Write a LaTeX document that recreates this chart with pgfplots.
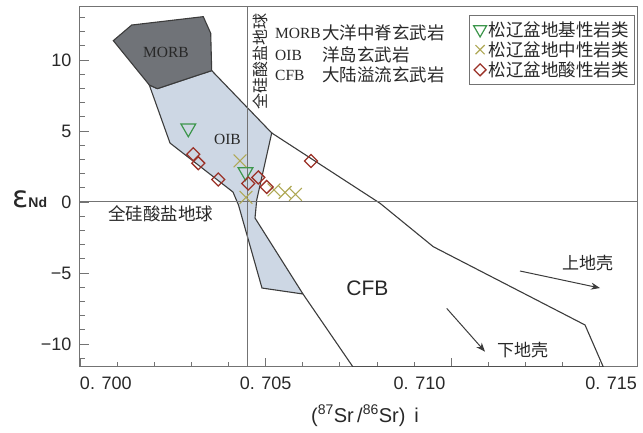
\documentclass[border=0pt]{standalone}
\usepackage{fontspec}
\setmainfont{Liberation Sans}
\newfontfamily\cjk{Noto Sans CJK SC}
\newfontfamily\serif{Liberation Serif}
\newfontfamily\dejavu{DejaVu Sans}
\usepackage{pgfplots}
\pgfplotsset{compat=1.18}
\usetikzlibrary{arrows.meta}
\definecolor{morbfill}{RGB}{112,115,120}
\definecolor{oibfill}{RGB}{205,215,228}
\definecolor{edge}{RGB}{60,60,60}
\definecolor{axgray}{RGB}{115,115,115}
\definecolor{tri}{RGB}{60,150,75}
\definecolor{crs}{RGB}{175,168,85}
\definecolor{dia}{RGB}{155,50,40}
\definecolor{txt}{RGB}{40,40,40}
\begin{document}
\begin{tikzpicture}
\useasboundingbox (-80pt,-66pt) rectangle (563pt,367pt);
\begin{axis}[
  scale only axis, width=557pt, height=360pt,
  xmin=0.700, xmax=0.715, ymin=-11.62, ymax=13.73,
  axis line style={draw=axgray, line width=1pt},
  tick align=inside, tick pos=left,
  xtick={0.700,0.705,0.710,0.715},
  xticklabels={\makebox[0pt][l]{0. 700}, 0. 705, \makebox[0pt][r]{0. 710\hspace{6pt}}, \makebox[0pt][r]{0. 715}},
  minor xtick={0.701,0.702,0.703,0.704,0.706,0.707,0.708,0.709,0.711,0.712,0.713,0.714},
  ytick={-10,-5,0,5,10},
  yticklabels={−10,−5,0,5,10},
  minor ytick={-11,-9,-8,-7,-6,-4,-3,-2,-1,1,2,3,4,6,7,8,9,11,12,13},
  major tick length=9pt, minor tick length=5pt,
  tick style={draw=axgray, line width=0.9pt},
  ticklabel style={font=\fontsize{18}{20}\selectfont, text=txt},
  xticklabel style={yshift=-6pt},
  yticklabel style={xshift=-5pt},
  clip mode=individual,
  legend style={at={(0.9964,0.978)}, anchor=north east, draw=axgray, line width=0.8pt,
    font=\cjk\fontsize{17.5}{19}\selectfont, text=txt, row sep=0pt, inner xsep=4pt, inner ysep=4pt,
    fill=white},
  legend cell align=left,
]
% OIB field
\addplot[fill=oibfill, draw=edge, line width=1.1pt, forget plot] coordinates {
 (0.701866,8.24) (0.702082,7.98) (0.703547,9.25) (0.705163,4.86) (0.704759,0.14)
 (0.704713,-1.13) (0.706005,-6.48) (0.704901,-6.06) (0.704268,-0.21) (0.704120,0.70)
 (0.702424,4.15)} -- cycle;
% MORB field
\addplot[fill=morbfill, draw=edge, line width=1.1pt, forget plot] coordinates {
 (0.700897,11.36) (0.701392,12.46) (0.703320,13.05) (0.703520,11.88) (0.703547,9.25)
 (0.702082,7.98) (0.701866,8.24)} -- cycle;
% CFB outline
\addplot[draw=edge, line width=1.1pt, forget plot] coordinates {
 (0.705163,4.86) (0.708079,-0.09) (0.709514,-3.15) (0.713600,-8.66) (0.714093,-11.62)
 (0.707352,-11.62) (0.706005,-6.48)};
% bulk silicate earth lines
\addplot[draw=axgray, line width=1pt, forget plot] coordinates {(0.700,0) (0.715,0)};
\addplot[draw=axgray, line width=1pt, forget plot] coordinates {(0.704505,-11.62) (0.704505,13.73)};
% data
\addplot[only marks, mark=triangle, mark size=8.5pt, mark options={rotate=180, draw=tri, line width=1.2pt, fill=none},
  legend image post style={mark size=7.5pt}] coordinates {
 (0.702917,5.19) (0.704457,2.11)};
\addlegendentry{松辽盆地基性岩类}
\addplot[only marks, mark=x, mark size=9pt, mark options={draw=crs, line width=1.1pt},
  legend image post style={mark size=6.5pt}] coordinates {
 (0.704309,2.89) (0.704470,0.32) (0.705224,0.85) (0.705521,0.67) (0.705803,0.53)};
\addlegendentry{松辽盆地中性岩类}
\addplot[only marks, mark=square, mark size=4.6pt, mark options={rotate=45, draw=dia, line width=1.3pt, fill=none},
  legend image post style={mark size=4.2pt}] coordinates {
 (0.703051,3.36) (0.703186,2.73) (0.703724,1.58) (0.704532,1.30) (0.704802,1.73)
 (0.705028,1.06) (0.706221,2.89)};
\addlegendentry{松辽盆地酸性岩类}
% labels
\node[font=\serif\fontsize{15.5}{16}\selectfont, text=txt] at (axis cs:0.702316,10.56) {MORB};
\node[font=\serif\fontsize{15.5}{16}\selectfont, text=txt] at (axis cs:0.703972,4.37) {OIB};
\node[font=\fontsize{21}{22}\selectfont, text=txt] at (axis cs:0.707742,-6.09) {CFB};
\node[font=\cjk\fontsize{17}{18}\selectfont, text=txt] at (axis cs:0.713667,-4.30) {上地壳};
\node[font=\cjk\fontsize{17}{18}\selectfont, text=txt] at (axis cs:0.711917,-10.42) {下地壳};
\node[font=\cjk\fontsize{17.5}{18}\selectfont, text=txt] at (axis cs:0.702168,-0.85) {全硅酸盐地球};
\node[rotate=90, font=\cjk\fontsize{16}{16}\selectfont, text=txt] at (axis cs:0.704847,9.86) {全硅酸盐地球};
\node[anchor=west, font=\serif\fontsize{15.5}{16}\selectfont, text=txt, inner sep=0pt] at (axis cs:0.705251,11.90) {MORB};
\node[anchor=west, font=\serif\fontsize{15.5}{16}\selectfont, text=txt, inner sep=0pt] at (axis cs:0.705251,10.35) {OIB};
\node[anchor=west, font=\serif\fontsize{15.5}{16}\selectfont, text=txt, inner sep=0pt] at (axis cs:0.705251,8.94) {CFB};
\node[anchor=west, font=\cjk\fontsize{17.5}{18}\selectfont, text=txt, inner sep=0pt] at (axis cs:0.706517,11.90) {大洋中脊玄武岩};
\node[anchor=west, font=\cjk\fontsize{17.5}{18}\selectfont, text=txt, inner sep=0pt] at (axis cs:0.706517,10.35) {洋岛玄武岩};
\node[anchor=west, font=\cjk\fontsize{17.5}{18}\selectfont, text=txt, inner sep=0pt] at (axis cs:0.706517,8.94) {大陆溢流玄武岩};
\draw[-{Stealth[length=9pt,width=7pt]}, edge, line width=1pt] (axis cs:0.711849,-4.86) -- (axis cs:0.714004,-6.06);
\draw[-{Stealth[length=9pt,width=7pt]}, edge, line width=1pt] (axis cs:0.709875,-7.49) -- (axis cs:0.710907,-10.54);
% axis titles
\node[anchor=base, font=\fontsize{20}{22}\selectfont, text=txt] at (rel axis cs:0.5117,-0.1528) {(\textsuperscript{87}Sr\,/\textsuperscript{86}Sr)\, i};
\node[anchor=base west, inner sep=0pt, text=txt] at (rel axis cs:-0.1221,0.4444) {{\dejavu\fontsize{30}{30}\selectfont ε}{\fontsize{14}{14}\selectfont\bfseries Nd}};
\end{axis}
\end{tikzpicture}
\end{document}
